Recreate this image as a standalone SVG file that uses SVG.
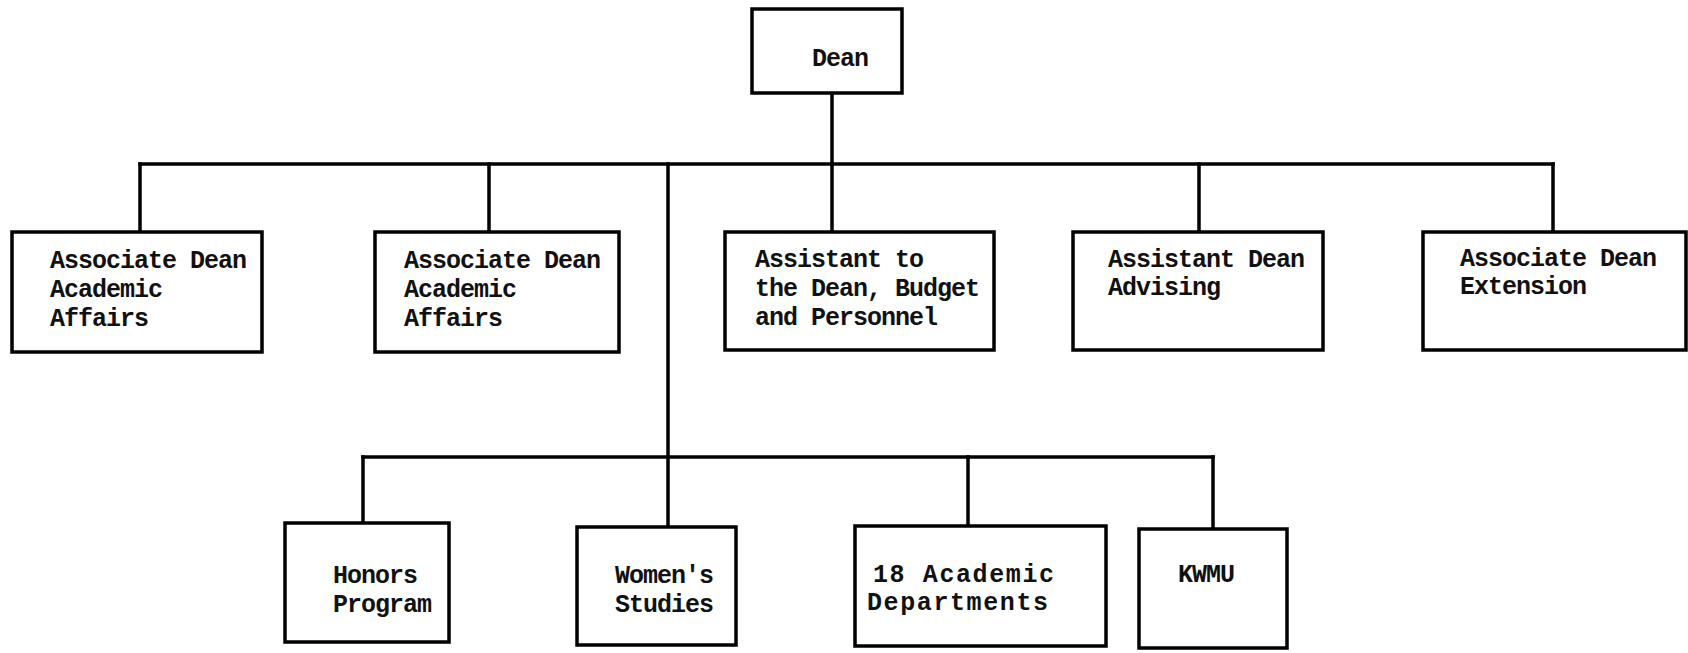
<svg xmlns="http://www.w3.org/2000/svg" width="1688" height="653" viewBox="0 0 1688 653">
  <style>
    .box { fill: #ffffff; stroke: #000000; stroke-width: 3.5; }
    .link { fill: none; stroke: #000000; stroke-width: 3.5; stroke-linecap: square; }
    .lbl { font-family: "Liberation Mono", "Courier New", monospace; font-weight: bold; font-size: 25px; letter-spacing: -1px; fill: #111111; }
    .wide { letter-spacing: 1.6px; }
  </style>
  <rect width="1688" height="653" fill="#ffffff"/>

  <!-- reporting lines -->
  <g id="connectors">
    <line class="link" x1="832" y1="93" x2="832" y2="164"/>
    <line class="link" x1="140" y1="164" x2="1553" y2="164"/>
    <line class="link" x1="140" y1="164" x2="140" y2="232"/>
    <line class="link" x1="489" y1="164" x2="489" y2="232"/>
    <line class="link" x1="832" y1="164" x2="832" y2="232"/>
    <line class="link" x1="1199" y1="164" x2="1199" y2="232"/>
    <line class="link" x1="1553" y1="164" x2="1553" y2="232"/>
    <line class="link" x1="668" y1="164" x2="668" y2="527"/>
    <line class="link" x1="363" y1="457" x2="1213" y2="457"/>
    <line class="link" x1="363" y1="457" x2="363" y2="523"/>
    <line class="link" x1="968" y1="457" x2="968" y2="526"/>
    <line class="link" x1="1213" y1="457" x2="1213" y2="529"/>
  </g>

  <g id="dean">
    <rect class="box" x="752" y="9" width="150" height="84"/>
    <text class="lbl" x="812" y="66">Dean</text>
  </g>

  <g id="assoc-dean-academic-1">
    <rect class="box" x="12" y="232" width="250" height="120"/>
    <text class="lbl"><tspan x="50" y="268">Associate Dean</tspan><tspan x="50" y="297">Academic</tspan><tspan x="50" y="326">Affairs</tspan></text>
  </g>

  <g id="assoc-dean-academic-2">
    <rect class="box" x="375" y="232" width="244" height="120"/>
    <text class="lbl"><tspan x="404" y="268">Associate Dean</tspan><tspan x="404" y="297">Academic</tspan><tspan x="404" y="326">Affairs</tspan></text>
  </g>

  <g id="assistant-budget">
    <rect class="box" x="725" y="232" width="269" height="118"/>
    <text class="lbl"><tspan x="755" y="267">Assistant to</tspan><tspan x="755" y="296">the Dean, Budget</tspan><tspan x="755" y="325">and Personnel</tspan></text>
  </g>

  <g id="assistant-advising">
    <rect class="box" x="1073" y="232" width="250" height="118"/>
    <text class="lbl"><tspan x="1108" y="267">Assistant Dean</tspan><tspan x="1108" y="295">Advising</tspan></text>
  </g>

  <g id="assoc-dean-extension">
    <rect class="box" x="1423" y="232" width="263" height="118"/>
    <text class="lbl"><tspan x="1460" y="266">Associate Dean</tspan><tspan x="1460" y="294">Extension</tspan></text>
  </g>

  <g id="honors">
    <rect class="box" x="285" y="523" width="164" height="119"/>
    <text class="lbl"><tspan x="333" y="583">Honors</tspan><tspan x="333" y="612">Program</tspan></text>
  </g>

  <g id="womens-studies">
    <rect class="box" x="577" y="527" width="159" height="118"/>
    <text class="lbl"><tspan x="615" y="583">Women's</tspan><tspan x="615" y="612">Studies</tspan></text>
  </g>

  <g id="academic-departments">
    <rect class="box" x="855" y="526" width="251" height="120"/>
    <text class="lbl wide"><tspan x="873" y="582">18 Academic</tspan><tspan x="867" y="610">Departments</tspan></text>
  </g>

  <g id="kwmu">
    <rect class="box" x="1139" y="529" width="148" height="119"/>
    <text class="lbl" x="1178" y="582">KWMU</text>
  </g>
</svg>
